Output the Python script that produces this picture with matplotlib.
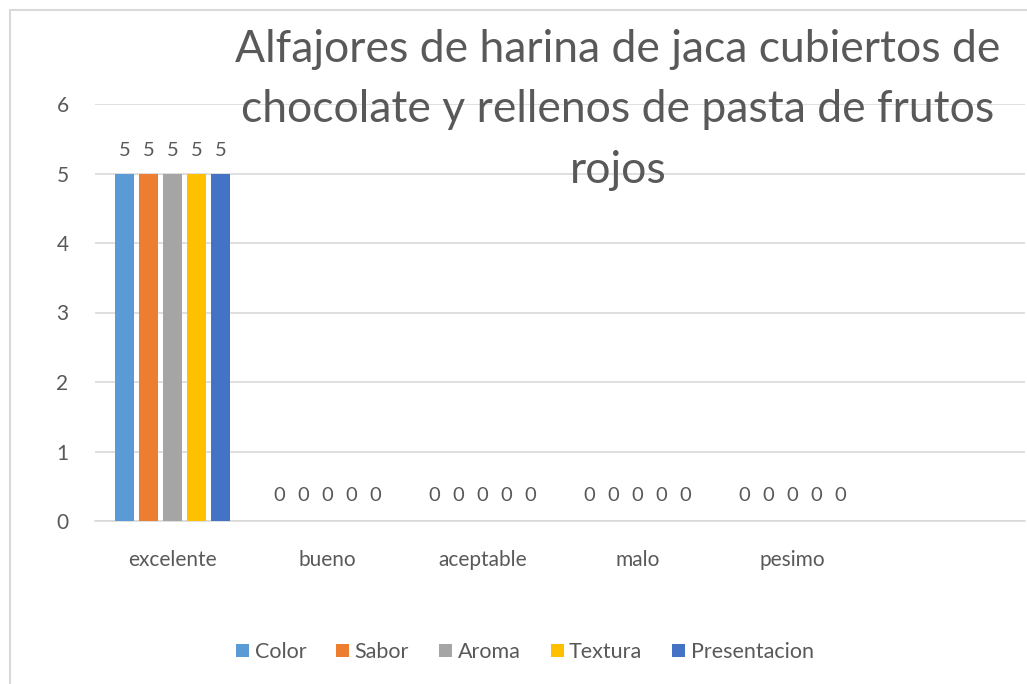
import numpy as np
import matplotlib.pyplot as plt
from matplotlib.patches import Rectangle

categories = ["excelente", "bueno", "aceptable", "malo", "pesimo", ""]
series_names = ["Color", "Sabor", "Aroma", "Textura", "Presentacion"]
color_vals = [5, 0, 0, 0, 0]
sabor_vals = [5, 0, 0, 0, 0]
aroma_vals = [5, 0, 0, 0, 0]
textura_vals = [5, 0, 0, 0, 0]
presentacion_vals = [5, 0, 0, 0, 0]
colors = ["#5b9bd5", "#ed7d31", "#a5a5a5", "#ffc000", "#4472c4"]

title = "Alfajores de harina de jaca cubiertos de\nchocolate y rellenos de pasta de frutos\nrojos"

plt.rcParams['font.family'] = ['Lato', 'DejaVu Sans']
text_color = "#595959"
grid_color = "#d9d9d9"

fig = plt.figure(figsize=(10.27, 6.84), dpi=100)
ax = fig.add_axes([95 / 1027, 1 - 521 / 684, 930 / 1027, 417 / 684])

all_vals = [color_vals, sabor_vals, aroma_vals, textura_vals, presentacion_vals]
x = np.arange(len(categories))
pitch = 0.155
width = 0.123
for i, (name, vals) in enumerate(zip(series_names, all_vals)):
    pos = x[:len(vals)] + (i - 2) * pitch
    bars = ax.bar(pos, vals, width, color=colors[i], label=name, zorder=3)
    for b, v in zip(bars, vals):
        off = 0.33 if v > 0 else 0.37
        ax.text(b.get_x() + b.get_width() / 2, v + off, str(v),
                ha="center", va="center", fontsize=14.5, color=text_color)

ax.set_xlim(-0.5, len(categories) - 0.5)
ax.set_ylim(0, 6)
ax.set_yticks(range(0, 7))
ax.set_xticks(x)
ax.set_xticklabels(categories)
ax.tick_params(axis="both", length=0, labelsize=15, colors=text_color)
ax.tick_params(axis="x", pad=21)
ax.tick_params(axis="y", pad=19)
ax.grid(axis="y", color=grid_color, linewidth=1.2, zorder=0)
for s in ["top", "right", "left"]:
    ax.spines[s].set_visible(False)
ax.spines["bottom"].set_color(grid_color)
ax.spines["bottom"].set_linewidth(1.2)

fig.text(618 / 1027, 1 - 110 / 684, title, ha="center", va="center",
         fontsize=32, color=text_color, linespacing=1.6)

fig.legend(loc="center", bbox_to_anchor=(525 / 1027, 1 - 652 / 684), ncol=5,
           frameon=False, fontsize=15.5, handlelength=0.6, handleheight=0.6,
           handletextpad=0.25, columnspacing=1.4, labelcolor=text_color)

fig.patches.append(Rectangle((10 / 1027, -0.1), 1.2, 1 - 10 / 684 + 0.1,
                             transform=fig.transFigure, fill=False,
                             edgecolor=grid_color, linewidth=1.5))

fig.savefig("out.png", dpi=100)
